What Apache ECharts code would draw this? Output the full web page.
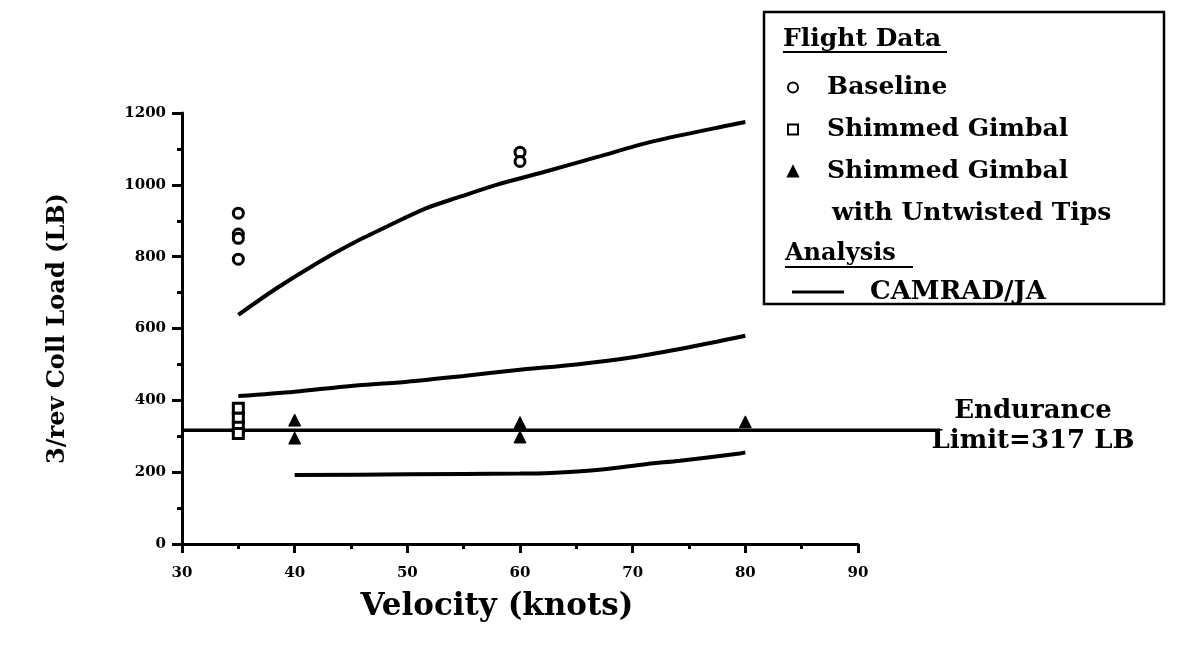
<!DOCTYPE html>
<html>
<head>
<meta charset="utf-8">
<script src="https://cdn.jsdelivr.net/npm/echarts@6/dist/echarts.min.js"></script>
<style>
html,body{margin:0;padding:0;background:#fff;}
#chart{width:1187px;height:649px;}
</style>
</head>
<body>
<div id="chart"></div>
<script>
// ---- data ----
const xTicks = [30, 40, 50, 60, 70, 80, 90];
const yTicks = [0, 200, 400, 600, 800, 1000, 1200];

const baselineX = [35, 35, 35, 35, 60, 60];
const baselineY = [921, 863, 851, 793, 1091, 1065];

const shimmedX = [35, 35, 35, 35];
const shimmedY = [378, 350, 325, 308];

const untwistedX = [40, 40, 60, 60, 80];
const untwistedY = [345, 295, 338, 298, 340];

const camradUpperX = [35, 38.4, 42.2, 45.2, 48.2, 51.7, 54.7, 57.9, 61.8, 66.8, 71.8, 79.2, 80];
const camradUpperY = [638, 712, 786, 838, 884, 935, 967, 1000, 1033, 1077, 1121, 1170, 1175];

const camradMidX = [35, 40, 45, 50, 55, 60, 65, 70, 75, 80];
const camradMidY = [412, 424, 440, 452, 468, 485, 500, 520, 548, 580];

const camradLowX = [40, 50, 60, 62.7, 66.8, 71.3, 74.2, 79.5, 80];
const camradLowY = [192, 194, 196, 198, 206, 223, 232, 252, 255];

const enduranceLimit = 317;
const enduranceX = [30, 97.3];

const zip = (xs, ys) => xs.map((x, i) => [x, ys[i]]);

const FONT = '"DejaVu Serif", serif';
const chart = echarts.init(document.getElementById('chart'), null, {renderer: 'canvas'});

const lineStyle = {color: '#000', width: 4};
const legendText = {fontFamily: FONT, fontWeight: 'bold', fontSize: 25, color: '#000', lineHeight: 25};

chart.setOption({
  backgroundColor: '#fff',
  animation: false,
  grid: [
    {left: 182, right: 329, top: 113, bottom: 105, containLabel: false},
    // wider grid sharing the same scale, so the endurance line can run past 90 knots
    {left: 182, right: 247, top: 113, bottom: 105, containLabel: false}
  ],
  xAxis: [{
    type: 'value', min: 30, max: 90, interval: 10, gridIndex: 0,
    name: 'Velocity (knots)', nameLocation: 'middle', nameGap: 47,
    nameTextStyle: {fontFamily: FONT, fontWeight: 'bold', fontSize: 31, color: '#000', padding: [0, 46, 0, 0]},
    axisLine: {show: true, onZero: false, lineStyle: {color: '#000', width: 3}},
    axisTick: {show: true, length: 9, lineStyle: {color: '#000', width: 3}},
    minorTick: {show: true, splitNumber: 2, length: 5, lineStyle: {color: '#000', width: 3}},
    splitLine: {show: false},
    axisLabel: {fontFamily: FONT, fontWeight: 'bold', fontSize: 15, color: '#000', margin: 22,
      formatter: v => xTicks.includes(v) ? String(v) : ''}
  }, {
    type: 'value', min: 30, max: 97.3, gridIndex: 1, show: false
  }],
  yAxis: [{
    type: 'value', min: 0, max: 1200, interval: 200, gridIndex: 0,
    name: '3/rev Coll Load (LB)', nameLocation: 'middle', nameGap: 112, nameRotate: 90,
    nameTextStyle: {fontFamily: FONT, fontWeight: 'bold', fontSize: 24, color: '#000'},
    axisLine: {show: true, onZero: false, lineStyle: {color: '#000', width: 3}},
    axisTick: {show: true, length: 10, lineStyle: {color: '#000', width: 3}},
    minorTick: {show: true, splitNumber: 2, length: 5, lineStyle: {color: '#000', width: 3}},
    splitLine: {show: false},
    axisLabel: {fontFamily: FONT, fontWeight: 'bold', fontSize: 15, color: '#000', margin: 16,
      formatter: v => yTicks.includes(v) ? String(v) : ''}
  }, {
    type: 'value', min: 0, max: 1200, gridIndex: 1, show: false
  }],
  legend: [
    {
      orient: 'vertical', left: 782, top: 70, itemWidth: 10, itemHeight: 10, itemGap: 17,
      data: ['Baseline', 'Shimmed Gimbal', 'Shimmed Gimbal with Untwisted Tips'],
      formatter: n => n === 'Shimmed Gimbal with Untwisted Tips' ? 'Shimmed Gimbal' : n,
      textStyle: Object.assign({padding: [0, 0, 0, 24]}, legendText),
      selectedMode: false
    },
    {
      orient: 'vertical', left: 787, top: 274, itemWidth: 52, itemHeight: 3,
      data: [{name: 'CAMRAD/JA', icon: 'rect'}],
      textStyle: Object.assign({padding: [0, 0, 0, 21]}, legendText, {fontSize: 26}),
      selectedMode: false
    }
  ],
  graphic: [
    {type: 'rect', shape: {x: 764, y: 12, width: 400, height: 292}, style: {fill: 'none', stroke: '#000', lineWidth: 2.5}, z: 10},
    {type: 'text', x: 783, y: 39, style: {text: 'Flight Data', font: 'bold 25px ' + FONT, fill: '#000', textVerticalAlign: 'middle'}, z: 10},
    {type: 'line', shape: {x1: 783, y1: 52, x2: 947, y2: 52}, style: {stroke: '#000', lineWidth: 2}, z: 10},
    {type: 'text', x: 832, y: 213, style: {text: 'with Untwisted Tips', font: 'bold 25px ' + FONT, fill: '#000', textVerticalAlign: 'middle'}, z: 10},
    {type: 'text', x: 785, y: 254, style: {text: 'Analysis', font: 'bold 24px ' + FONT, fill: '#000', textVerticalAlign: 'middle'}, z: 10},
    {type: 'line', shape: {x1: 785, y1: 267, x2: 913, y2: 267}, style: {stroke: '#000', lineWidth: 2}, z: 10},
    {type: 'text', x: 1033, y: 426, style: {text: 'Endurance\nLimit=317 LB', font: 'bold 26px ' + FONT, fill: '#000', textAlign: 'center', textVerticalAlign: 'middle', lineHeight: 30}, z: 10}
  ],
  series: [
    {name: 'Baseline', type: 'scatter', data: zip(baselineX, baselineY), symbol: 'circle', symbolSize: 10,
      itemStyle: {color: '#fff', borderColor: '#000', borderWidth: 3, opacity: 1}, z: 5},
    {name: 'Shimmed Gimbal', type: 'scatter', data: zip(shimmedX, shimmedY), symbol: 'rect', symbolSize: 10,
      itemStyle: {color: '#fff', borderColor: '#000', borderWidth: 3, opacity: 1}, z: 5},
    {name: 'Shimmed Gimbal with Untwisted Tips', type: 'scatter', data: zip(untwistedX, untwistedY), symbol: 'triangle', symbolSize: 12,
      itemStyle: {color: '#000', borderColor: '#000', borderWidth: 1, opacity: 1}, z: 5},
    {name: 'CAMRAD/JA', type: 'line', data: zip(camradUpperX, camradUpperY), symbol: 'none', smooth: 0.3, lineStyle: lineStyle, itemStyle: {color: '#000'}},
    {name: 'CAMRAD/JA', type: 'line', data: zip(camradMidX, camradMidY), symbol: 'none', smooth: 0.3, lineStyle: lineStyle, itemStyle: {color: '#000'}},
    {name: 'CAMRAD/JA', type: 'line', data: zip(camradLowX, camradLowY), symbol: 'none', smooth: 0.3, lineStyle: lineStyle, itemStyle: {color: '#000'}},
    {name: 'Endurance Limit', type: 'line', xAxisIndex: 1, yAxisIndex: 1, data: enduranceX.map(x => [x, enduranceLimit]), symbol: 'none',
      lineStyle: {color: '#000', width: 3.5}, itemStyle: {color: '#000'}, z: 1}
  ]
});
</script>
</body>
</html>
